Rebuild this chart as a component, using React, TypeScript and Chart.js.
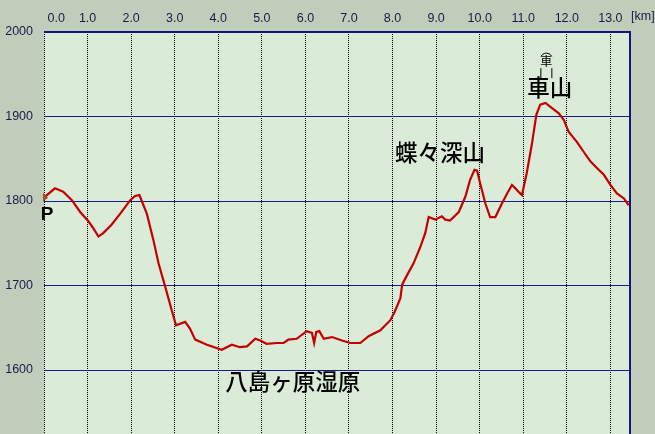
import React, { useEffect, useRef } from "react";
import { Chart, registerables } from "chart.js";

Chart.register(...registerables);

// distance along the trail [km]
const distKm = [
  0.0, 0.02, 0.25, 0.44, 0.64, 0.83, 1.02, 1.13, 1.25, 1.36, 1.55, 1.75, 1.98, 2.09, 2.19,
  2.36, 2.51, 2.63, 2.78, 2.93, 3.03, 3.24, 3.35, 3.47, 3.74, 4.08, 4.31, 4.5, 4.66, 4.85,
  4.96, 5.11, 5.34, 5.5, 5.61, 5.8, 6.03, 6.15, 6.2, 6.25, 6.32, 6.42, 6.61, 6.84, 7.03,
  7.26, 7.45, 7.72, 7.95, 8.05, 8.18, 8.22, 8.33, 8.48, 8.64, 8.75, 8.83, 8.98, 9.13, 9.21,
  9.32, 9.52, 9.67, 9.78, 9.88, 9.94, 10.01, 10.13, 10.24, 10.36, 10.51, 10.63, 10.74, 10.82,
  10.89, 10.97, 11.08, 11.2, 11.3, 11.39, 11.51, 11.66, 11.81, 11.93, 12.04, 12.23, 12.39,
  12.54, 12.69, 12.85, 13.0, 13.15, 13.31, 13.42,
];
// elevation [m]
const elevM = [
  1804, 1805, 1815, 1811, 1801, 1787, 1776, 1768, 1758, 1762, 1772, 1785, 1801, 1806, 1807,
  1785, 1754, 1726, 1699, 1671, 1653, 1657, 1649, 1636, 1630, 1624, 1630, 1627, 1628, 1637,
  1635, 1631, 1632, 1632, 1636, 1637, 1646, 1644, 1632, 1645, 1646, 1637, 1639, 1635, 1632,
  1632, 1640, 1647, 1659, 1669, 1685, 1701, 1712, 1726, 1746, 1762, 1781, 1778, 1782, 1778,
  1777, 1787, 1805, 1825, 1837, 1836, 1821, 1797, 1781, 1781, 1797, 1809, 1819, 1815,
  1811, 1807, 1833, 1868, 1902, 1914, 1916, 1910, 1904, 1896, 1882, 1870, 1858,
  1847, 1839, 1831, 1819, 1809, 1803, 1795,
];

const xTickValues = [0, 1, 2, 3, 4, 5, 6, 7, 8, 9, 10, 11, 12, 13];
const yTickValues = [1600, 1700, 1800, 1900, 2000];
const xUnit = "[km]";

// place names with their anchor (km, m)
const placeNames = ["蝶々深山", "車山", "八島ヶ原湿原"];
const placeKm = [9.09, 11.61, 5.71];
const placeElev = [1858, 1934, 1586];

const TICK_FONT = "'Liberation Sans', Arial, sans-serif";
const TICK_SIZE = 12.5;
const JP_FONT = "'Noto Sans CJK JP', sans-serif";

export default function App() {
  const ref = useRef<HTMLCanvasElement>(null);

  useEffect(() => {
    document.body.style.margin = "0";
    const canvas = ref.current!;

    const deco = {
      id: "deco",
      beforeDraw(chart: any) {
        const { ctx, chartArea: a } = chart;
        ctx.save();
        ctx.fillStyle = "#C1CDBB";
        ctx.fillRect(0, 0, chart.width, chart.height);
        ctx.fillStyle = "#DAEBD8";
        ctx.fillRect(a.left, a.top, a.right - a.left, a.bottom - a.top);
        ctx.restore();
      },
      beforeDatasetsDraw(chart: any) {
        const { ctx, chartArea: a } = chart;
        ctx.save();
        ctx.strokeStyle = "#000000";
        ctx.lineWidth = 1;
        ctx.setLineDash([1, 1]);
        ctx.beginPath();
        ctx.moveTo(a.left + 0.5, a.top);
        ctx.lineTo(a.left + 0.5, a.bottom);
        ctx.stroke();
        ctx.setLineDash([]);
        ctx.strokeStyle = "#16167A";
        ctx.lineWidth = 2;
        ctx.beginPath();
        ctx.moveTo(a.left, a.top);
        ctx.lineTo(a.right + 1, a.top);
        ctx.stroke();
        ctx.beginPath();
        ctx.moveTo(a.right, a.top);
        ctx.lineTo(a.right, a.bottom);
        ctx.stroke();
        ctx.restore();
      },
      afterDraw(chart: any) {
        const { ctx, chartArea: a } = chart;
        const xs = chart.scales.x;
        const ys = chart.scales.y;
        ctx.save();
        ctx.font = `${TICK_SIZE}px ${TICK_FONT}`;
        ctx.fillStyle = "#1A1A48";
        ctx.textAlign = "left";
        ctx.textBaseline = "middle";
        ctx.fillText(xUnit, a.right + 1, 17);

        ctx.font = `500 22.5px ${JP_FONT}`;
        ctx.fillStyle = "#000000";
        ctx.textAlign = "center";
        ctx.textBaseline = "middle";
        placeNames.forEach((n, i) => {
          const px = xs.getPixelForValue(placeKm[i]);
          const py = ys.getPixelForValue(placeElev[i]);
          ctx.fillText(n, px, py);
        });

        // summit symbol above 車山
        const sx = xs.getPixelForValue(11.53);
        const sy = ys.getPixelForValue(1975);
        ctx.strokeStyle = "#000000";
        ctx.lineWidth = 1;
        ctx.beginPath();
        ctx.arc(sx, sy + 6, 6, Math.PI * 1.15, Math.PI * 1.85);
        ctx.stroke();
        ctx.font = `12px ${JP_FONT}`;
        ctx.fillText("車", sx, sy + 8);
        ctx.beginPath();
        ctx.moveTo(sx - 5.5, sy + 15);
        ctx.lineTo(sx - 5.5, sy + 25);
        ctx.moveTo(sx + 5.5, sy + 15);
        ctx.lineTo(sx + 5.5, sy + 25);
        ctx.stroke();

        // parking mark at the start
        const p0x = xs.getPixelForValue(0);
        const p0y = ys.getPixelForValue(1804);
        ctx.fillStyle = "#A0522D";
        ctx.beginPath();
        ctx.moveTo(p0x - 1, p0y - 5);
        ctx.lineTo(p0x + 4, p0y);
        ctx.lineTo(p0x - 1, p0y + 4);
        ctx.closePath();
        ctx.fill();
        ctx.fillStyle = "#000000";
        ctx.font = `bold 19px 'Liberation Sans', sans-serif`;
        ctx.textAlign = "center";
        ctx.fillText("P", p0x + 3, p0y + 17);
        ctx.restore();
      },
    };

    const chart = new Chart(canvas, {
      type: "line",
      data: {
        datasets: [
          {
            data: distKm.map((d, i) => ({ x: d, y: elevM[i] })),
            borderColor: "#C40000",
            borderWidth: 2.2,
            pointRadius: 0,
            tension: 0,
            fill: false,
          },
        ],
      },
      options: {
        animation: false,
        responsive: false,
        devicePixelRatio: 1,
        layout: { padding: { left: 0, right: 25, top: 0, bottom: 0 } },
        plugins: {
          legend: { display: false },
          tooltip: { enabled: false },
        },
        scales: {
          x: {
            type: "linear",
            position: "top",
            min: 0,
            max: 13.45,
            afterBuildTicks: (s: any) => {
              s.ticks = xTickValues.map((v) => ({ value: v }));
            },
            afterFit: (s: any) => {
              s.height = 32;
              s.paddingLeft = 0;
              s.paddingRight = 0;
            },
            grid: {
              color: "#000000",
              lineWidth: 1,
              drawTicks: false,
            },
            border: { display: false, dash: [1, 1] },
            ticks: {
              padding: 6,
              maxRotation: 0,
              autoSkip: false,
              color: "#1A1A48",
              font: { family: TICK_FONT, size: TICK_SIZE },
              callback: (v: any) => (Number(v) === 0 ? "       0.0" : Number(v).toFixed(1)),
            },
          },
          y: {
            type: "linear",
            min: 1524.3,
            max: 2000,
            afterBuildTicks: (s: any) => {
              s.ticks = yTickValues.map((v) => ({ value: v }));
            },
            afterFit: (s: any) => {
              s.width = 44;
              s.paddingTop = 0;
              s.paddingBottom = 0;
            },
            grid: {
              color: "#1A1A8A",
              lineWidth: 1,
              drawTicks: false,
            },
            border: { display: false },
            ticks: {
              padding: 11,
              autoSkip: false,
              color: "#1A1A48",
              font: { family: TICK_FONT, size: TICK_SIZE },
              callback: (v: any) => String(v),
            },
          },
        },
      },
      plugins: [deco],
    });
    return () => chart.destroy();
  }, []);

  return (
    <div style={{ width: 655, height: 434, overflow: "hidden" }}>
      <canvas ref={ref} width={655} height={434} style={{ display: "block" }} />
    </div>
  );
}
